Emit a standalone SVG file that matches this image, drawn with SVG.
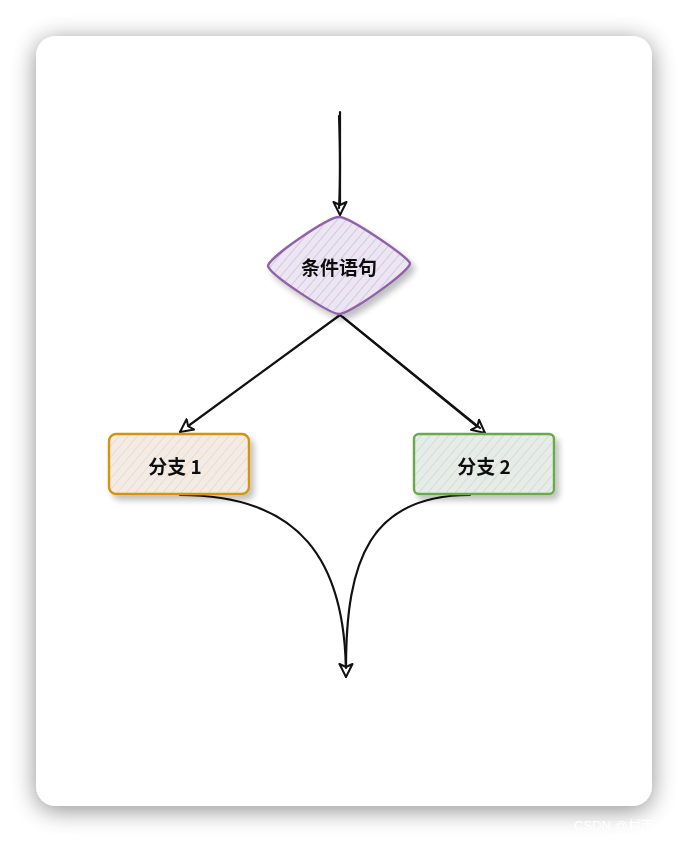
<svg xmlns="http://www.w3.org/2000/svg" width="688" height="842" viewBox="0 0 688 842">
<defs>
<filter id="cardShadow" x="-20%" y="-20%" width="140%" height="140%">
<feGaussianBlur in="SourceAlpha" stdDeviation="12"/>
<feOffset dx="0" dy="4"/>
<feComponentTransfer><feFuncA type="linear" slope="0.45"/></feComponentTransfer>
<feMerge><feMergeNode/><feMergeNode in="SourceGraphic"/></feMerge>
</filter>
<filter id="shadow" x="-30%" y="-30%" width="160%" height="160%">
<feGaussianBlur in="SourceAlpha" stdDeviation="3"/>
<feOffset dx="4" dy="5"/>
<feComponentTransfer><feFuncA type="linear" slope="0.25"/></feComponentTransfer>
<feMerge><feMergeNode/><feMergeNode in="SourceGraphic"/></feMerge>
</filter>
<pattern id="hPurple" width="7" height="7" patternUnits="userSpaceOnUse" patternTransform="rotate(40)">
<rect width="7" height="7" fill="#ebe6f1"/>
<line x1="0" y1="0" x2="0" y2="7" stroke="#d2bde3" stroke-width="1.6"/>
</pattern>
<pattern id="hOrange" width="7" height="7" patternUnits="userSpaceOnUse" patternTransform="rotate(40)">
<rect width="7" height="7" fill="#f1ece8"/>
<line x1="0" y1="0" x2="0" y2="7" stroke="#fbd3ad" stroke-width="1.6"/>
</pattern>
<pattern id="hGreen" width="7" height="7" patternUnits="userSpaceOnUse" patternTransform="rotate(40)">
<rect width="7" height="7" fill="#e7ebe9"/>
<line x1="0" y1="0" x2="0" y2="7" stroke="#c8e2bf" stroke-width="1.6"/>
</pattern>
<marker id="arrow" viewBox="0 0 16 16" refX="14" refY="8" markerWidth="16" markerHeight="16" markerUnits="userSpaceOnUse" orient="auto">
<path d="M1,1.5 L14,8 L1,14.5 L4,8 Z" fill="#fff" stroke="#111" stroke-width="2" stroke-linejoin="round"/>
</marker>
<style>
.lbl{font-family:"Noto Sans CJK SC","Noto Sans",sans-serif;font-size:19px;font-weight:bold;fill:#111;text-anchor:middle;dominant-baseline:central}
.conn{fill:none;stroke:#111;stroke-width:2.2;stroke-linecap:round}
</style>
</defs>
<rect width="688" height="842" fill="#ffffff"/>
<rect x="36" y="36" width="616" height="770" rx="20" fill="#fff" filter="url(#cardShadow)"/>
<text x="574" y="830" font-family="Liberation Sans,Noto Sans CJK SC,sans-serif" font-size="13" fill="#ffffff">CSDN @村雨</text>

<g id="connectors">
<path class="conn" d="M340,112 L340,215" marker-end="url(#arrow)"/>
<path class="conn" d="M339,116 Q341,170 339,208"/>
<path class="conn" d="M340,315 L180,432" marker-end="url(#arrow)"/>
<path class="conn" d="M340,315 L485,433" marker-end="url(#arrow)"/>
<path class="conn" d="M343,317 L480,428"/>
<path class="conn" d="M180,495 C300,495 346,560 346,677" marker-end="url(#arrow)"/>
<path class="conn" d="M470,495 C370,495 346,560 346,668"/>
</g>

<g id="cond" filter="url(#shadow)">
<path d="M339,217 C350,217 405,255 410,263 C412,270 350,314 339,314 C330,314 270,275 268,266 C268,258 328,217 339,217 Z" fill="url(#hPurple)" stroke="#9062a8" stroke-width="2.4"/>
<text class="lbl" x="339" y="266">条件语句</text>
</g>

<g id="branch1" filter="url(#shadow)">
<rect x="109" y="434" width="140" height="60" rx="7" fill="url(#hOrange)" stroke="#d4940e" stroke-width="2.4"/>
<text class="lbl" x="175" y="465">分支 1</text>
</g>

<g id="branch2" filter="url(#shadow)">
<rect x="414" y="434" width="140" height="60" rx="5" fill="url(#hGreen)" stroke="#6aaa4c" stroke-width="2.4"/>
<text class="lbl" x="484" y="465">分支 2</text>
</g>
</svg>
